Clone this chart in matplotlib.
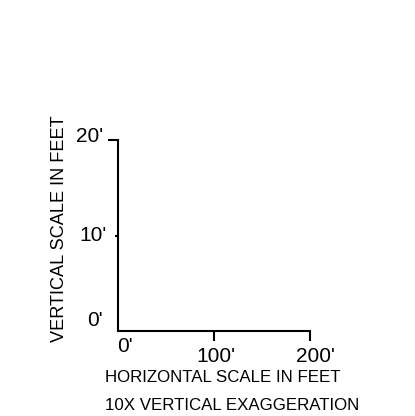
import matplotlib
matplotlib.use("Agg")
import matplotlib.pyplot as plt
import matplotlib.transforms as mtransforms

plt.rcParams['font.family'] = ['Liberation Sans', 'DejaVu Sans']

# Data
x_ticks = [0, 100, 200]
x_labels = ["0'", "100'", "200'"]
y_ticks = [0, 10, 20]
y_labels = ["0'", "10'", "20'"]
x_title = "HORIZONTAL SCALE IN FEET"
y_title = "VERTICAL SCALE IN FEET"
note = "10X VERTICAL EXAGGERATION"

W, H = 415, 416
fig = plt.figure(figsize=(W / 100, H / 100), dpi=100)
ax = fig.add_axes([118 / W, 85 / H, 192 / W, 191 / H])
ax.set_xlim(x_ticks[0], x_ticks[-1])
ax.set_ylim(y_ticks[0], y_ticks[-1])
ax.patch.set_visible(False)
for s in ['top', 'right']:
    ax.spines[s].set_visible(False)
for s in ['left', 'bottom']:
    ax.spines[s].set_linewidth(1.5)
    ax.spines[s].set_color('black')

ax.set_xticks(x_ticks)
ax.set_yticks(y_ticks)
ax.set_xticklabels([])
ax.set_yticklabels([])
ax.tick_params(direction='out', width=1.5, color='black')

x_len = [0, 7.2, 7.2]
y_len = [0, 2.2, 7.2]
for t, L in zip(ax.xaxis.get_major_ticks(), x_len):
    t.tick1line.set_markersize(L)
for t, L in zip(ax.yaxis.get_major_ticks(), y_len):
    t.tick1line.set_markersize(L)

num_fs = 15
# x tick labels (pixel offsets)
x_off = [(-1, -16, 'left'), (2, -25, 'center'), (5, -25, 'center')]
for v, lab, (dx, dy, ha) in zip(x_ticks, x_labels, x_off):
    tr = mtransforms.offset_copy(ax.transData, fig=fig, x=dx, y=dy, units='dots')
    ax.text(v, 0, lab, transform=tr, ha=ha, va='center', fontsize=num_fs, clip_on=False)

y_off = [(-15, 11), (-11, 0), (-15, 3)]
for v, lab, (dx, dy) in zip(y_ticks, y_labels, y_off):
    tr = mtransforms.offset_copy(ax.transData, fig=fig, x=dx, y=dy, units='dots')
    ax.text(0, v, lab, transform=tr, ha='right', va='center', fontsize=num_fs, clip_on=False)

fig.text(105 / W, 1 - 377.5 / H, x_title, ha='left', va='center', fontsize=12.2)
fig.text(105 / W, 1 - 406 / H, note, ha='left', va='center', fontsize=12.2)
fig.text(60 / W, 1 - 229 / H, y_title, ha='center', va='center', rotation=90, fontsize=13.1)

fig.savefig('out.png', dpi=100)
